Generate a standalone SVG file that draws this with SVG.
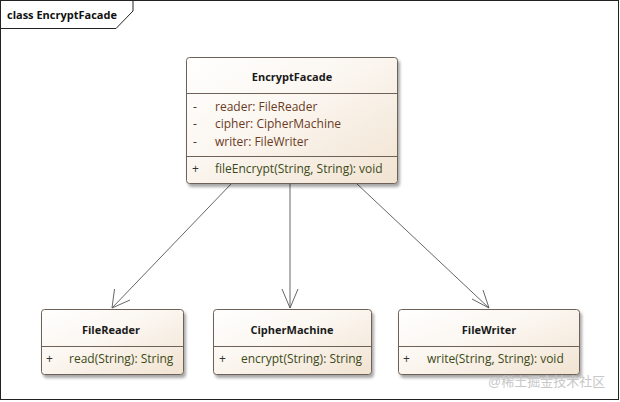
<svg xmlns="http://www.w3.org/2000/svg" width="620" height="402" viewBox="0 0 620 402">
<defs>
<linearGradient id="g" x1="0" y1="0" x2="1" y2="1">
<stop offset="0" stop-color="#ffffff"/>
<stop offset="0.45" stop-color="#fbf6f0"/>
<stop offset="1" stop-color="#f1e3d1"/>
</linearGradient>
<filter id="sh" x="-10%" y="-10%" width="130%" height="140%">
<feGaussianBlur in="SourceAlpha" stdDeviation="1.5"/>
<feOffset dx="2" dy="3" result="b"/>
<feComponentTransfer><feFuncA type="linear" slope="0.35"/></feComponentTransfer>
<feMerge><feMergeNode/><feMergeNode in="SourceGraphic"/></feMerge>
</filter>
</defs>
<style>
.box{fill:url(#g);stroke:#6e6258;stroke-width:1;filter:url(#sh)}
.div{stroke:#6e6258;stroke-width:1}
.t{font-family:"Open Sans","Liberation Sans",sans-serif;font-size:11px;font-weight:bold;fill:#1a1a1a;text-anchor:middle}
.a{font-family:"Open Sans","Liberation Sans",sans-serif;font-size:12px;fill:#6a3a1e}
.m{font-family:"Open Sans","Liberation Sans",sans-serif;font-size:12px;fill:#3c4a18}
.s{font-family:"Open Sans","Liberation Sans",sans-serif;font-size:12px;fill:#333}
.c{stroke:#555;stroke-width:0.9;fill:none}
</style>
<rect x="0.5" y="0.5" width="618" height="399" fill="#fff" stroke="#222" stroke-width="1"/>
<path d="M0.5 28.5 H116 L133 11 V0.5" fill="none" stroke="#222" stroke-width="1"/>
<text x="7" y="19" style="font-family:'Open Sans','Liberation Sans',sans-serif;font-size:11px;font-weight:bold;fill:#111">class EncryptFacade</text>

<g id="connectors">
<line class="c" x1="232" y1="183" x2="112" y2="308"/>
<path class="c" d="M114.5 289 L112 308 L130 300"/>
<line class="c" x1="290" y1="183" x2="290" y2="308"/>
<path class="c" d="M282 289 L290 308 L298 289"/>
<line class="c" x1="356" y1="183" x2="489" y2="308"/>
<path class="c" d="M472 299 L489 308 L483 290"/>
</g>

<g id="EncryptFacade">
<rect class="box" x="186.5" y="57.5" width="211" height="126" rx="3"/>
<line class="div" x1="186.5" y1="93.5" x2="397.5" y2="93.5"/>
<line class="div" x1="186.5" y1="156.5" x2="397.5" y2="156.5"/>
<text class="t" x="292" y="81">EncryptFacade</text>
<text class="s" x="193" y="111">-</text>
<text class="a" x="215" y="111">reader: FileReader</text>
<text class="s" x="193" y="128">-</text>
<text class="a" x="215" y="128">cipher: CipherMachine</text>
<text class="s" x="193" y="146">-</text>
<text class="a" x="215" y="146">writer: FileWriter</text>
<text class="s" x="192" y="173">+</text>
<text class="m" x="215" y="173">fileEncrypt(String, String): void</text>
</g>

<g id="FileReader">
<rect class="box" x="41.5" y="309.5" width="142" height="65" rx="3"/>
<line class="div" x1="41.5" y1="346.5" x2="183.5" y2="346.5"/>
<text class="t" x="111" y="334">FileReader</text>
<text class="s" x="46" y="363">+</text>
<text class="m" x="69" y="363">read(String): String</text>
</g>

<g id="CipherMachine">
<rect class="box" x="213.5" y="309.5" width="158" height="65" rx="3"/>
<line class="div" x1="213.5" y1="346.5" x2="371.5" y2="346.5"/>
<text class="t" x="292" y="334">CipherMachine</text>
<text class="s" x="219" y="363">+</text>
<text class="m" x="241" y="363">encrypt(String): String</text>
</g>

<g id="FileWriter">
<rect class="box" x="398.5" y="309.5" width="181" height="65" rx="3"/>
<line class="div" x1="398.5" y1="346.5" x2="579.5" y2="346.5"/>
<text class="t" x="489" y="334">FileWriter</text>
<text class="s" x="403" y="363">+</text>
<text class="m" x="427" y="363">write(String, String): void</text>
</g>

<text x="488" y="386" style="font-family:'Liberation Sans','Noto Sans CJK SC',sans-serif;font-size:13px;fill:#c8c8c8">@稀土掘金技术社区</text>
</svg>
